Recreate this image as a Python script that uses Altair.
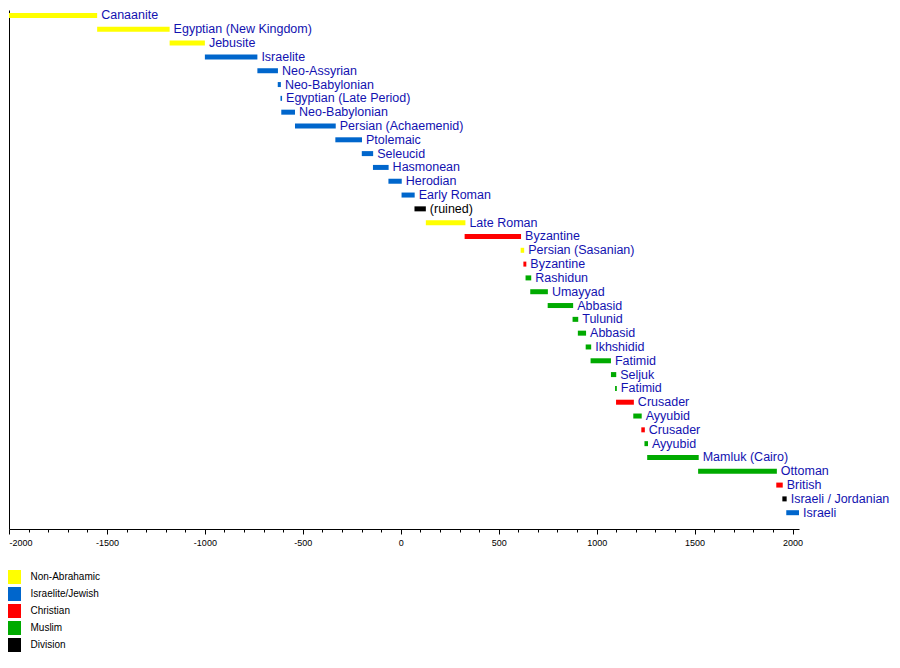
import altair as alt
import pandas as pd

names = [
    "Canaanite", "Egyptian (New Kingdom)", "Jebusite", "Israelite", "Neo-Assyrian",
    "Neo-Babylonian", "Egyptian (Late Period)", "Neo-Babylonian", "Persian (Achaemenid)",
    "Ptolemaic", "Seleucid", "Hasmonean", "Herodian", "Early Roman", "(ruined)",
    "Late Roman", "Byzantine", "Persian (Sasanian)", "Byzantine", "Rashidun", "Umayyad",
    "Abbasid", "Tulunid", "Abbasid", "Ikhshidid", "Fatimid", "Seljuk", "Fatimid",
    "Crusader", "Ayyubid", "Crusader", "Ayyubid", "Mamluk (Cairo)", "Ottoman",
    "British", "Israeli / Jordanian", "Israeli",
]
starts = [
    -2000, -1550, -1180, -1000, -732,
    -628, -614, -610, -540,
    -334, -199, -142, -63, 4, 70,
    128, 326, 612, 626, 637, 661,
    750, 877, 904, 944, 969, 1073, 1094,
    1099, 1187, 1228, 1244, 1258, 1518,
    1917, 1948, 1968,
]
ends = [
    -1550, -1180, -1000, -732, -627,
    -612, -606, -540, -332,
    -198, -141, -62, 5, 71, 128,
    330, 614, 630, 641, 666, 751,
    880, 906, 946, 972, 1073, 1100, 1103,
    1190, 1230, 1246, 1262, 1521, 1920,
    1950, 1970, 2033,
]
groups = [
    "Non-Abrahamic", "Non-Abrahamic", "Non-Abrahamic", "Israelite/Jewish", "Israelite/Jewish",
    "Israelite/Jewish", "Israelite/Jewish", "Israelite/Jewish", "Israelite/Jewish",
    "Israelite/Jewish", "Israelite/Jewish", "Israelite/Jewish", "Israelite/Jewish",
    "Israelite/Jewish", "Division",
    "Non-Abrahamic", "Christian", "Non-Abrahamic", "Christian", "Muslim", "Muslim",
    "Muslim", "Muslim", "Muslim", "Muslim", "Muslim", "Muslim", "Muslim",
    "Christian", "Muslim", "Christian", "Muslim", "Muslim", "Muslim",
    "Christian", "Division", "Israelite/Jewish",
]

group_order = ["Non-Abrahamic", "Israelite/Jewish", "Christian", "Muslim", "Division"]
group_colors = ["#ffff00", "#0066cc", "#ff0000", "#00aa00", "#000000"]

tick_values = list(range(-2000, 2001, 100))

df = pd.DataFrame({
    "name": names,
    "start": starts,
    "end": ends,
    "group": groups,
    "row": list(range(len(names))),
})

FONT = "Liberation Sans"

x_scale = alt.Scale(domain=[-2000, 2033], nice=False, zero=False, padding=0)
y_scale = alt.Scale(domain=[-0.398, 37.18], reverse=True, nice=False, zero=False, padding=0)

x_axis = alt.Axis(
    values=tick_values,
    tickCount=100,
    labelExpr="datum.value % 500 === 0 ? '' + datum.value : ''",
    tickSize={"condition": {"test": "datum.value % 500 === 0", "value": 5}, "value": 3},
    labelOverlap=False,
    labelFlush=True,
    labelFlushOffset=0,
    labelFont=FONT,
    labelFontSize=9,
    labelColor="black",
    labelPadding=4,
    tickColor="black",
    domainColor="black",
    grid=False,
    title=None,
)
y_axis = alt.Axis(ticks=False, labels=False, grid=False, domainColor="black", title=None)

bars = alt.Chart(df).mark_bar(size=5).encode(
    x=alt.X("start:Q", scale=x_scale, axis=x_axis),
    x2="end:Q",
    y=alt.Y("row:Q", scale=y_scale, axis=y_axis),
    color=alt.Color(
        "group:N",
        scale=alt.Scale(domain=group_order, range=group_colors),
        legend=alt.Legend(
            title=None,
            orient="none",
            legendX=-2,
            legendY=560,
            symbolType="square",
            symbolSize=196,
            symbolStrokeWidth=0,
            symbolOpacity=1,
            rowPadding=3,
            labelOffset=9.5,
            labelFont=FONT,
            labelFontSize=10,
            labelColor="black",
        ),
    ),
)

labels = alt.Chart(df).mark_text(
    align="left", baseline="middle", dx=4, dy=0, font=FONT, fontSize=12.5
).encode(
    x=alt.X("end:Q", scale=x_scale),
    y=alt.Y("row:Q", scale=y_scale),
    text="name:N",
    color=alt.condition(alt.datum.name == "(ruined)", alt.value("black"), alt.value("#1212b0")),
)

chart = alt.layer(bars, labels).properties(
    width=790,
    height=519,
    autosize=alt.AutoSizeParams(type="none"),
    padding={"left": 1, "top": 2, "right": 93, "bottom": 130},
).configure_view(stroke=None)

chart.save("out.html", embed_options={"renderer": "svg", "actions": False})
